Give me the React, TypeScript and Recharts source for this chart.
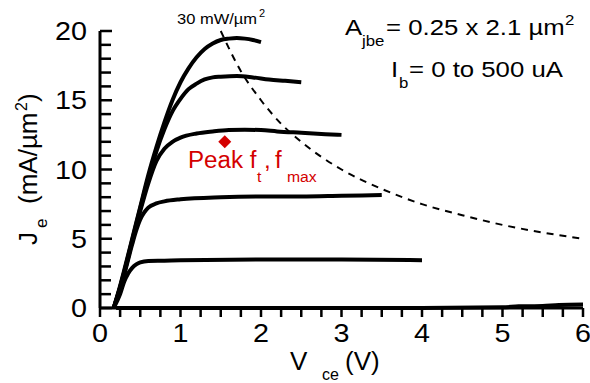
import React from 'react';
import { ComposedChart, Line, Scatter, XAxis, YAxis } from 'recharts';

// Je (mA/um^2) vs Vce (V), one array per base current step
const curveIb500 = [
  { v: 0.17, j: 0 }, { v: 0.25, j: 1.6 }, { v: 0.3, j: 2.7 }, { v: 0.4, j: 5.0 }, { v: 0.5, j: 7.3 },
  { v: 0.6, j: 9.6 }, { v: 0.7, j: 11.6 }, { v: 0.8, j: 13.4 }, { v: 0.9, j: 15.0 }, { v: 1.0, j: 16.3 },
  { v: 1.1, j: 17.3 }, { v: 1.2, j: 18.1 }, { v: 1.3, j: 18.7 }, { v: 1.4, j: 19.1 }, { v: 1.5, j: 19.35 },
  { v: 1.6, j: 19.45 }, { v: 1.7, j: 19.5 }, { v: 1.8, j: 19.45 }, { v: 1.9, j: 19.35 }, { v: 2.0, j: 19.2 },
];
const curveIb400 = [
  { v: 0.17, j: 0 }, { v: 0.25, j: 1.5 }, { v: 0.3, j: 2.6 }, { v: 0.4, j: 4.9 }, { v: 0.5, j: 7.2 },
  { v: 0.6, j: 9.4 }, { v: 0.7, j: 11.3 }, { v: 0.8, j: 12.9 }, { v: 0.9, j: 14.2 }, { v: 1.0, j: 15.1 },
  { v: 1.1, j: 15.8 }, { v: 1.2, j: 16.2 }, { v: 1.3, j: 16.5 }, { v: 1.4, j: 16.65 }, { v: 1.5, j: 16.7 },
  { v: 1.7, j: 16.75 }, { v: 1.9, j: 16.65 }, { v: 2.1, j: 16.5 }, { v: 2.3, j: 16.4 }, { v: 2.5, j: 16.3 },
];
const curveIb300 = [
  { v: 0.17, j: 0 }, { v: 0.25, j: 1.5 }, { v: 0.3, j: 2.5 }, { v: 0.4, j: 4.8 }, { v: 0.5, j: 7.0 },
  { v: 0.6, j: 9.0 }, { v: 0.7, j: 10.6 }, { v: 0.8, j: 11.5 }, { v: 0.9, j: 12.0 }, { v: 1.0, j: 12.3 },
  { v: 1.2, j: 12.6 }, { v: 1.4, j: 12.75 }, { v: 1.6, j: 12.85 }, { v: 1.8, j: 12.87 }, { v: 2.0, j: 12.85 },
  { v: 2.2, j: 12.75 }, { v: 2.5, j: 12.65 }, { v: 2.8, j: 12.55 }, { v: 3.0, j: 12.5 },
];
const curveIb200 = [
  { v: 0.17, j: 0 }, { v: 0.25, j: 1.4 }, { v: 0.3, j: 2.4 }, { v: 0.4, j: 4.6 }, { v: 0.45, j: 5.6 },
  { v: 0.5, j: 6.4 }, { v: 0.55, j: 6.9 }, { v: 0.6, j: 7.25 }, { v: 0.7, j: 7.55 }, { v: 0.8, j: 7.7 },
  { v: 1.0, j: 7.85 }, { v: 1.5, j: 8.0 }, { v: 2.0, j: 8.05 }, { v: 2.5, j: 8.05 }, { v: 3.0, j: 8.1 },
  { v: 3.5, j: 8.15 },
];
const curveIb100 = [
  { v: 0.17, j: 0 }, { v: 0.25, j: 1.0 }, { v: 0.3, j: 1.9 }, { v: 0.35, j: 2.5 }, { v: 0.4, j: 2.9 },
  { v: 0.45, j: 3.15 }, { v: 0.5, j: 3.3 }, { v: 0.6, j: 3.4 }, { v: 0.8, j: 3.42 }, { v: 1.0, j: 3.45 },
  { v: 2.0, j: 3.5 }, { v: 3.0, j: 3.5 }, { v: 4.0, j: 3.45 },
];
const curveIb0 = [
  { v: 0.2, j: 0 }, { v: 1, j: 0 }, { v: 2, j: 0 }, { v: 3, j: 0 }, { v: 4, j: 0 }, { v: 5, j: 0.05 },
  { v: 5.2, j: 0.12 }, { v: 5.5, j: 0.15 }, { v: 5.7, j: 0.22 }, { v: 6, j: 0.25 },
];
// 30 mW/um^2 power contour
const powerLimit = [
  { v: 1.5, j: 20 }, { v: 1.75, j: 17.1 }, { v: 2, j: 15 }, { v: 2.25, j: 13.3 }, { v: 2.5, j: 12 },
  { v: 3, j: 10 }, { v: 3.5, j: 8.6 }, { v: 4, j: 7.5 }, { v: 4.5, j: 6.7 }, { v: 5, j: 6 },
  { v: 5.5, j: 5.45 }, { v: 6, j: 5 },
];
const peakPoint = [{ v: 1.55, j: 12 }];

const xTicks = [0, 0.25, 0.5, 0.75, 1, 1.25, 1.5, 1.75, 2, 2.25, 2.5, 2.75, 3, 3.25, 3.5, 3.75, 4, 4.25, 4.5, 4.75, 5, 5.25, 5.5, 5.75, 6];
const yTicks = [0, 1, 2, 3, 4, 5, 6, 7, 8, 9, 10, 11, 12, 13, 14, 15, 16, 17, 18, 19, 20];

const FONT = '"Liberation Sans", Arial, sans-serif';
const RED = '#d40000';

const Txt = ({ x, y, size, sx = 1.12, fill = '#000', anchor = 'start', rotate = false, children }: any) => (
  <text
    transform={`translate(${x} ${y})${rotate ? ' rotate(-90)' : ''} scale(${sx} 1)`}
    fontSize={size}
    fill={fill}
    textAnchor={anchor}
    fontFamily={FONT}
  >
    {children}
  </text>
);

// tickSize is 0, so props.x / props.y sit on the axis line
// x ticks point down (outside), y ticks point right (into the plot)
const XTick = (props: any) => {
  const { x, y, payload } = props;
  const major = Number.isInteger(payload.value);
  return (
    <g>
      <rect x={x - 1.25} y={y} width={2.5} height={9} fill="#000" />
      {major && <Txt x={x} y={y + 34} size={25} sx={1.15} anchor="middle">{payload.value}</Txt>}
    </g>
  );
};

const YTick = (props: any) => {
  const { x, y, payload } = props;
  const major = payload.value % 5 === 0;
  return (
    <g>
      <rect x={x} y={y - 1.25} width={major ? 12 : 11} height={2.5} fill="#000" />
      {major && <Txt x={x - 13} y={y + 9} size={25} sx={1.15} anchor="end">{payload.value}</Txt>}
    </g>
  );
};

const Diamond = (props: any) => {
  const { cx, cy } = props;
  const r = 6.5;
  return <polygon points={`${cx},${cy - r} ${cx + r},${cy} ${cx},${cy + r} ${cx - r},${cy}`} fill={RED} />;
};

const curves = [curveIb0, curveIb100, curveIb200, curveIb300, curveIb400, curveIb500];

const App: React.FC = () => {
  return (
    <div style={{ position: 'absolute', left: 0, top: 0, width: 590, height: 383, background: '#fff' }}>
      <ComposedChart width={590} height={383} margin={{ top: 31, right: 7, bottom: 0, left: 0 }}>
        <XAxis
          type="number"
          dataKey="v"
          domain={[0, 6]}
          ticks={xTicks}
          interval={0}
          height={75}
          tickSize={0}
          tickMargin={0}
          tickLine={false}
          tick={<XTick />}
          axisLine={{ stroke: '#000', strokeWidth: 3 }}
        />
        <YAxis
          type="number"
          dataKey="j"
          domain={[0, 20]}
          ticks={yTicks}
          interval={0}
          width={100}
          tickSize={0}
          tickMargin={0}
          tickLine={false}
          tick={<YTick />}
          axisLine={{ stroke: '#000', strokeWidth: 3 }}
        />
        <Line
          data={powerLimit}
          dataKey="j"
          type="monotone"
          stroke="#000"
          strokeWidth={2}
          strokeDasharray="7 6"
          dot={false}
          isAnimationActive={false}
        />
        {curves.map((c, i) => (
          <Line
            key={i}
            data={c}
            dataKey="j"
            type="monotone"
            stroke="#000"
            strokeWidth={4}
            dot={false}
            isAnimationActive={false}
          />
        ))}
        <Scatter data={peakPoint} dataKey="j" shape={<Diamond />} isAnimationActive={false} />
      </ComposedChart>
      <svg width={590} height={383} style={{ position: 'absolute', left: 0, top: 0, pointerEvents: 'none' }}>
        <Txt x={177} y={24} size={15} sx={1.1}>30 mW/µm</Txt>
        <Txt x={259} y={17} size={10} sx={1.1}>2</Txt>

        <Txt x={345} y={35} size={23}>A</Txt>
        <Txt x={362} y={46} size={15}>jbe</Txt>
        <Txt x={386} y={35} size={23}>= 0.25 x 2.1 µm</Txt>
        <Txt x={565} y={25} size={15}>2</Txt>
        <Txt x={391} y={77} size={23}>I</Txt>
        <Txt x={399} y={88} size={15}>b</Txt>
        <Txt x={409} y={77} size={23}>= 0 to 500 uA</Txt>

        <Txt x={188} y={168} size={23} sx={1.05} fill={RED}>Peak f</Txt>
        <Txt x={257} y={182} size={15} sx={1.05} fill={RED}>t</Txt>
        <Txt x={264} y={168} size={23} sx={1.05} fill={RED}>,</Txt>
        <Txt x={275} y={168} size={23} sx={1.05} fill={RED}>f</Txt>
        <Txt x={287} y={182} size={15} sx={1.05} fill={RED}>max</Txt>

        <Txt x={290} y={370} size={26} sx={1}>V</Txt>
        <Txt x={322} y={380} size={16} sx={1}>ce</Txt>
        <Txt x={345} y={370} size={26} sx={1}>(V)</Txt>

        <Txt x={37} y={245} size={26} sx={1} rotate>J</Txt>
        <Txt x={47} y={228} size={17} sx={1} rotate>e</Txt>
        <Txt x={37} y={204} size={26} sx={1} rotate>(mA/µm</Txt>
        <Txt x={27} y={111} size={16} sx={1} rotate>2</Txt>
        <Txt x={37} y={102} size={26} sx={1} rotate>)</Txt>
      </svg>
    </div>
  );
};

export default App;
